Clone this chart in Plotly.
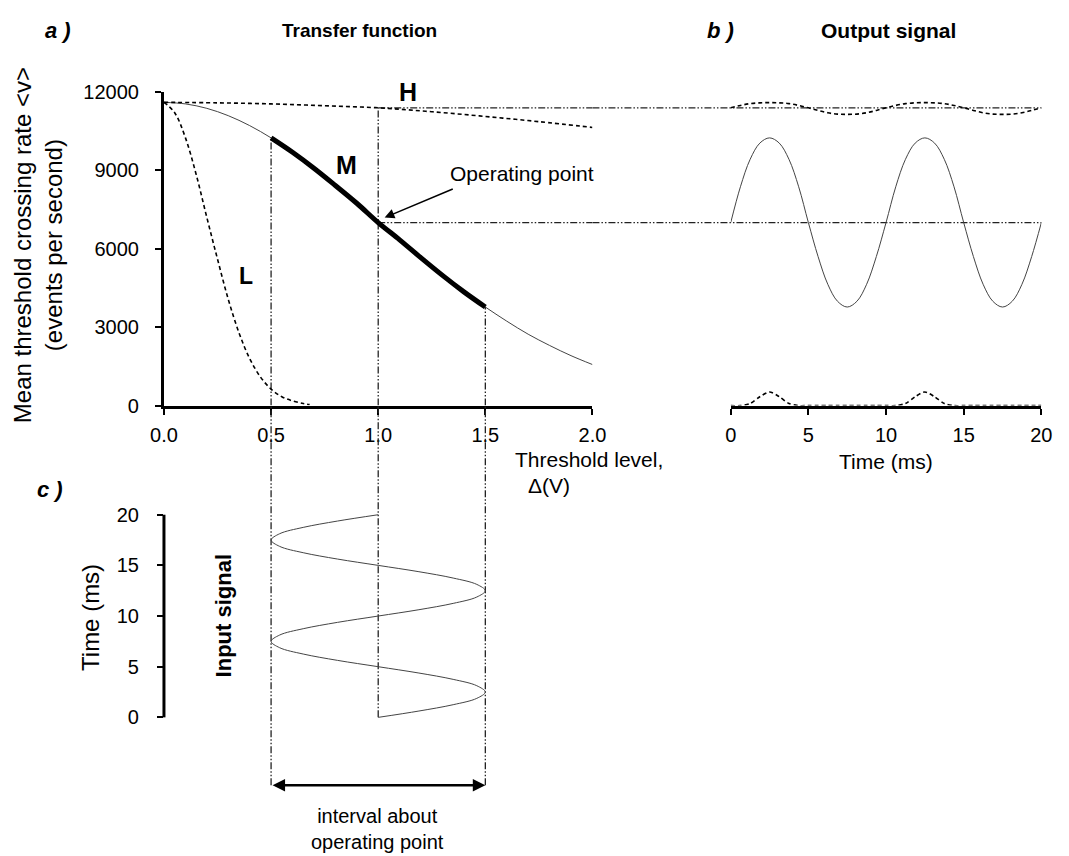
import plotly.graph_objects as go

# ---------------- data ----------------
# Transfer functions, panel a
delta_m = [0.0, 0.1, 0.2, 0.3, 0.4, 0.5, 0.6, 0.7, 0.8, 0.9, 1.0,
           1.1, 1.2, 1.3, 1.4, 1.5, 1.6, 1.7, 1.8, 1.9, 2.0]
rate_m = [11600, 11540, 11370, 11090, 10710, 10240, 9690, 9080, 8420, 7740, 7000,
          6340, 5650, 4980, 4350, 3770, 3230, 2730, 2300, 1910, 1570]

delta_h = [0.0, 0.25, 0.5, 0.75, 1.0, 1.25, 1.5, 1.75, 2.0]
rate_h = [11600, 11580, 11540, 11470, 11390, 11240, 11060, 10860, 10640]

delta_l = [0.0, 0.05, 0.1, 0.15, 0.2, 0.25, 0.3, 0.35, 0.4, 0.45, 0.5, 0.55, 0.6, 0.65, 0.68]
rate_l = [11600, 11200, 10250, 8850, 7200, 5600, 4070, 2790, 1800, 1100, 630, 340, 180, 80, 40]

# Output signal, panel b (time in ms)
time_ms = [0, 0.625, 1.25, 1.875, 2.5, 3.125, 3.75, 4.375, 5, 5.625, 6.25, 6.875, 7.5,
           8.125, 8.75, 9.375, 10, 10.625, 11.25, 11.875, 12.5, 13.125, 13.75, 14.375,
           15, 15.625, 16.25, 16.875, 17.5, 18.125, 18.75, 19.375, 20]
out_m = [7000, 8370, 9420, 10040, 10240, 10040, 9420, 8370, 7000, 5700, 4640, 3990, 3770,
         3990, 4640, 5700, 7000, 8370, 9420, 10040, 10240, 10040, 9420, 8370, 7000, 5700,
         4640, 3990, 3770, 3990, 4640, 5700, 7000]
out_h = [11390, 11480, 11550, 11580, 11590, 11580, 11550, 11480, 11390, 11290, 11200, 11150,
         11140, 11150, 11200, 11290, 11390, 11480, 11550, 11580, 11590, 11580, 11550, 11480,
         11390, 11290, 11200, 11150, 11140, 11150, 11200, 11290, 11390]
out_l = [0, 0, 80, 340, 520, 340, 80, 0, 0, 0, 0, 0, 0, 0, 0, 0, 0,
         0, 80, 340, 520, 340, 80, 0, 0, 0, 0, 0, 0, 0, 0, 0, 0]

# Input signal, panel c (threshold level vs time)
input_delta = [1.0, 1.19, 1.35, 1.46, 1.5, 1.46, 1.35, 1.19, 1.0, 0.81, 0.65, 0.54, 0.5,
               0.54, 0.65, 0.81, 1.0, 1.19, 1.35, 1.46, 1.5, 1.46, 1.35, 1.19, 1.0, 0.81,
               0.65, 0.54, 0.5, 0.54, 0.65, 0.81, 1.0]

x_ticks = [0, 0.5, 1.0, 1.5, 2.0]
x_ticktext = ["0.0", "0.5", "1.0", "1.5", "2.0"]
y_ticks = [0, 3000, 6000, 9000, 12000]
y_ticktext = ["0", "3000", "6000", "9000", "12000"]
t_ticks = [0, 5, 10, 15, 20]

op_delta = 1.0       # operating point
op_rate = 7000
interval = (0.5, 1.5)

# ---------------- layout helpers ----------------
W, H = 1069, 856
def px(x):
    return x / W
def py(y):
    return 1 - y / H

FONT = "Arial, Liberation Sans, sans-serif"
XA_DOM = [px(154), px(594)]
XB_DOM = [px(736), px(1055)]
YA_DOM = [py(405), py(83)]
YC_DOM = [py(797.8), py(405)]

fig = go.Figure()

thin = dict(color="#444444", width=1)
dashed = dict(color="black", width=1.6, dash="4px,3px")

# panel a curves
fig.add_trace(go.Scatter(x=delta_m, y=rate_m, mode="lines", line=thin, xaxis="x", yaxis="y",
                         line_shape="spline"))
i0, i1 = delta_m.index(interval[0]), delta_m.index(interval[1])
fig.add_trace(go.Scatter(x=delta_m[i0:i1 + 1], y=rate_m[i0:i1 + 1], mode="lines",
                         line=dict(color="black", width=5), xaxis="x", yaxis="y",
                         line_shape="spline"))
fig.add_trace(go.Scatter(x=delta_h, y=rate_h, mode="lines", line=dashed, xaxis="x", yaxis="y",
                         line_shape="spline"))
fig.add_trace(go.Scatter(x=delta_l, y=rate_l, mode="lines", line=dashed, xaxis="x", yaxis="y",
                         line_shape="spline"))

# panel b curves
fig.add_trace(go.Scatter(x=time_ms, y=out_m, mode="lines", line=thin, xaxis="x2", yaxis="y",
                         line_shape="spline"))
fig.add_trace(go.Scatter(x=time_ms, y=out_h, mode="lines", line=dashed, xaxis="x2", yaxis="y",
                         line_shape="spline"))
fig.add_trace(go.Scatter(x=time_ms, y=out_l, mode="lines", line=dashed, xaxis="x2", yaxis="y",
                         line_shape="spline", line_smoothing=0.8))

# panel c curve
fig.add_trace(go.Scatter(x=input_delta, y=time_ms, mode="lines", line=thin, xaxis="x", yaxis="y3",
                         line_shape="spline"))

# ---------------- guide lines ----------------
ddot = dict(color="#222222", width=1.3, dash="7px,2px,1.5px,2px,1.5px,2px")
shapes = []
h_at_op = rate_h[delta_h.index(op_delta)]
m_at = {d: rate_m[delta_m.index(d)] for d in (interval[0], interval[1])}
for d, top in ((interval[0], m_at[interval[0]]), (op_delta, h_at_op), (interval[1], m_at[interval[1]])):
    shapes.append(dict(type="line", xref="x", yref="y", x0=d, x1=d, y0=0, y1=top, line=ddot, layer="below"))
for d in interval:
    shapes.append(dict(type="line", xref="x", yref="y3", x0=d, x1=d, y0=-6.7, y1=32, line=ddot, layer="below"))
shapes.append(dict(type="line", xref="x", yref="y3", x0=op_delta, x1=op_delta, y0=0, y1=32, line=ddot, layer="below"))
for level in (op_rate, h_at_op):
    shapes.append(dict(type="line", xref="x", yref="y", x0=op_delta, x1=2.0, y0=level, y1=level, line=ddot, layer="below"))
    shapes.append(dict(type="line", xref="paper", yref="y", x0=XA_DOM[1], x1=XB_DOM[1], y0=level, y1=level, line=ddot, layer="below"))
shapes.append(dict(type="line", xref="x domain", yref="y3", x0=0, x1=0, y0=0, y1=20,
                   line=dict(color="black", width=3)))

TICKFONT = dict(family=FONT, size=20, color="black")
ax_common = dict(showgrid=False, zeroline=False, showline=True, linecolor="black", linewidth=3,
                 ticks="outside", ticklen=6, tickwidth=2, tickcolor="black", tickfont=TICKFONT)

fig.update_layout(
    width=W, height=H, margin=dict(l=0, r=0, t=0, b=0),
    paper_bgcolor="white", plot_bgcolor="rgba(0,0,0,0)", showlegend=False,
    xaxis=dict(domain=XA_DOM, range=[0, 2], anchor="y", tickvals=x_ticks, ticktext=x_ticktext,
               ticklabelstandoff=3, **ax_common),
    yaxis=dict(domain=YA_DOM, range=[0, 12000], anchor="x", tickvals=y_ticks, ticktext=y_ticktext,
               ticklabelstandoff=12, **ax_common),
    xaxis2=dict(domain=XB_DOM, range=[0, 20], anchor="y", tickvals=t_ticks,
                ticklabelstandoff=3, **ax_common),
    yaxis3=dict(domain=YC_DOM, range=[-7.0, 30.77], anchor="x", tickvals=t_ticks,
                showgrid=False, zeroline=False, showline=False, ticks="outside", ticklen=6,
                tickwidth=2, tickcolor="black", ticklabelstandoff=14, tickfont=TICKFONT),
    shapes=shapes,
)

def txt(text, x, y, size, bold=False, italic=False, angle=0, xanchor="center"):
    if bold:
        text = "<b>" + text + "</b>"
    if italic:
        text = "<i>" + text + "</i>"
    fig.add_annotation(text=text, xref="paper", yref="paper", x=px(x), y=py(y),
                       xanchor=xanchor, yanchor="middle", showarrow=False, textangle=angle,
                       font=dict(family=FONT, size=size, color="black"))

txt("a )", 45, 20, 22, bold=True, italic=True)
txt("Transfer function", 355, 20, 19, bold=True)
txt("b )", 725, 20, 22, bold=True, italic=True)
txt("Output signal", 898, 20, 21, bold=True)
txt("c )", 37, 491, 22, bold=True, italic=True)
txt("Mean threshold crossing rate &lt;v&gt;<br>(events per second)", 24, 240, 24, angle=-90)
txt("Threshold level,", 512, 460, 21, xanchor="left")
txt("Δ(V)", 549, 487, 21)
txt("Time (ms)", 895, 462, 21)
txt("Time (ms)", 78, 622, 24, angle=-90)
txt("Input signal", 215, 621, 22, bold=True, angle=-90)
txt("H", 405, 83, 25, bold=True)
txt("M", 341, 158, 25, bold=True)
txt("L", 238, 272, 23, bold=True)
txt("Operating point", 522, 167, 21)
txt("interval about<br>operating point", 373, 840, 20)

# operating point arrow
fig.add_annotation(xref="x", yref="y", axref="x", ayref="y", x=1.03, y=7190, ax=1.355, ay=8310,
                   text="", showarrow=True, arrowhead=2, arrowsize=1.3, arrowwidth=1.5,
                   arrowcolor="black")
# interval double arrow
fig.add_annotation(xref="x", yref="y3", axref="x", ayref="y3", x=interval[1], y=-6.7,
                   ax=interval[0], ay=-6.7, text="", showarrow=True, arrowhead=2,
                   startarrowhead=2, arrowside="end+start", arrowsize=1.0, startarrowsize=1.0,
                   arrowwidth=2.5, arrowcolor="black")

fig.write_html("out.html")
